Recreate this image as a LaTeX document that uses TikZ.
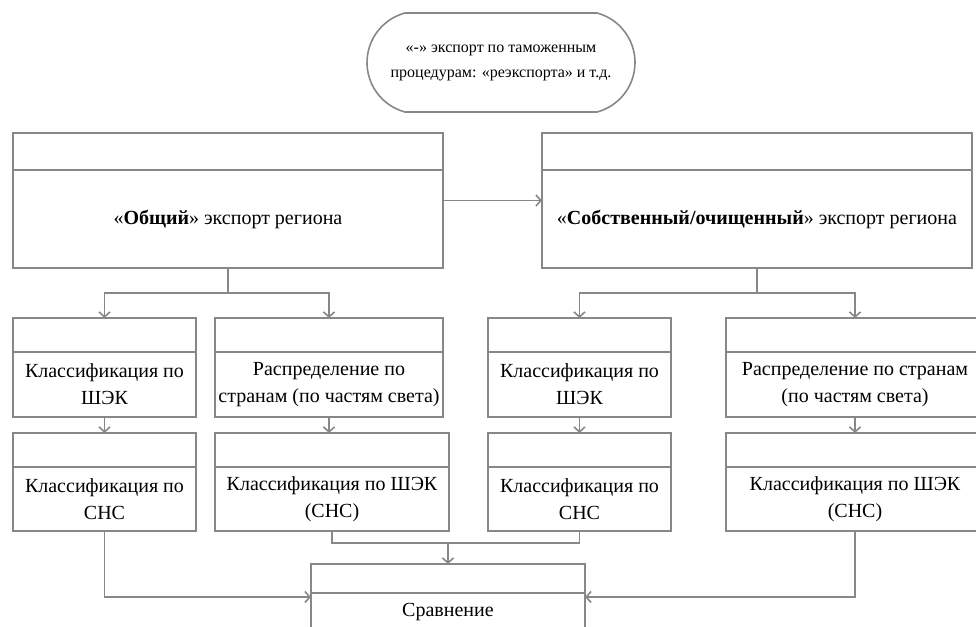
\documentclass[tikz,border=0pt]{standalone}
\usepackage{fontspec}
\setmainfont{Liberation Serif}
\usetikzlibrary{shapes,arrows.meta,fit,positioning,calc}
\definecolor{linegray}{rgb}{.53,.53,.53}
\def\Klass{Классификация по}
\def\Exp{экспорт региона}

\begin{document}
\begin{tikzpicture}[x=1pt,y=-1pt,% styles for all boxes, override case-by-case
		every node/.style={
			align=center,		% so that "\\" breaks the line
			inner sep=0pt,
			font=\fontsize{20}{27}\selectfont
		},
		box/.style={rectangle,draw=linegray,line width=1.6pt,outer sep=0pt,minimum width=#1},
		head/.style={box=#1,minimum height=34pt},	% empty top strip of a box
		whole/.style={fit=#1,inner sep=0pt,outer sep=0pt},
		every edge/.style={draw=linegray,line width=1.6pt},
		link/.style={draw=linegray,line width=1.6pt},
		>={Straight Barb[length=5pt,width=11pt]}
	]
	\useasboundingbox (0,0) rectangle (976,626);
	\clip (0,0) rectangle (976,626);
	% top
	\node[rounded rectangle,rounded rectangle arc length=150,draw=linegray,line width=1.6pt,
		minimum width=268pt,minimum height=99pt,font=\fontsize{16}{25}\selectfont](P) at (501,62.5)
		{«-» экспорт по таможенным\\ процедурам: «реэкспорта» и т.д.};
	% export
	\node[box=430pt,minimum height=98pt](E1) at (228,219){«\textbf{Общий}» \Exp};
	\node[head=430pt,minimum height=37pt](E1h)[above=0pt of E1]{};
	\node[box=430pt,minimum height=98pt](E2) at (757,219){«\textbf{Собственный/очищенный}» \Exp};
	\node[head=430pt,minimum height=37pt](E2h)[above=0pt of E2]{};
	% second row
	\node[box=183pt,minimum height=65pt](K1) at (104.5,384.5){\Klass\\ ШЭК};
	\node[head=183pt](K1h)[above=0pt of K1]{};
	\node[box=228pt,minimum height=65pt](K2) at (329,384.5){Распределение по\\ странам (по частям света)};
	\node[head=228pt](K2h)[above=0pt of K2]{};
	\node[box=183pt,minimum height=65pt](K3) at (579.5,384.5){\Klass\\ ШЭК};
	\node[head=183pt](K3h)[above=0pt of K3]{};
	\node[box=258pt,minimum height=65pt](K4) at (855,384.5){Распределение по странам\\ (по частям света)};
	\node[head=258pt](K4h)[above=0pt of K4]{};
	% third row
	\node[box=183pt,minimum height=64pt](C1) at (104.5,499){\Klass\\ СНС};
	\node[head=183pt](C1h)[above=0pt of C1]{};
	\node[box=234pt,minimum height=64pt](C2) at (332,499){\Klass{} ШЭК\\ (СНС)};
	\node[head=234pt](C2h)[above=0pt of C2]{};
	\node[box=183pt,minimum height=64pt](C3) at (579.5,499){\Klass\\ СНС};
	\node[head=183pt](C3h)[above=0pt of C3]{};
	\node[box=258pt,minimum height=64pt](C4) at (855,499){\Klass{} ШЭК\\ (СНС)};
	\node[head=258pt](C4h)[above=0pt of C4]{};
	% bottom
	\node[box=274pt,minimum height=37pt](S) at (448,611.5){Сравнение};
	\node[head=274pt,minimum height=29pt](Sh)[above=0pt of S]{};
	% whole boxes, for the connectors
	\foreach \n in {E1,E2,K1,K2,K3,K4,C1,C2,C3,C4,S}
		\node[whole=(\n h)(\n)](\n f){};
	\coordinate (J) at ($(Sf.north)+(0,-21)$);
	\path[->]
	(E1f)edge []	node [] {} (E2f)
	(K1f.south)edge []	node [] {} (K1f.south |- C1f.north)
	(K2f.south)edge []	node [] {} (K2f.south |- C2f.north)
	(K3f.south)edge []	node [] {} (K3f.south |- C3f.north)
	(K4f.south)edge []	node [] {} (K4f.south |- C4f.north)
	(J)edge []	node [] {} (Sf)
	;
	\draw[link,->] (E1f.south) -- ++(0,25) -| (K1f.north);
	\draw[link,->] (E1f.south) -- ++(0,25) -| (K2f.north);
	\draw[link,->] (E2f.south) -- ++(0,25) -| (K3f.north);
	\draw[link,->] (E2f.south) -- ++(0,25) -| (K4f.north);
	\draw[link,->] (C1f.south) |- (Sf.west);
	\draw[link,->] (C4f.south) |- (Sf.east);
	\draw[link] (C2f.south) |- (J) -| (C3f.south);
\end{tikzpicture}
\end{document}
